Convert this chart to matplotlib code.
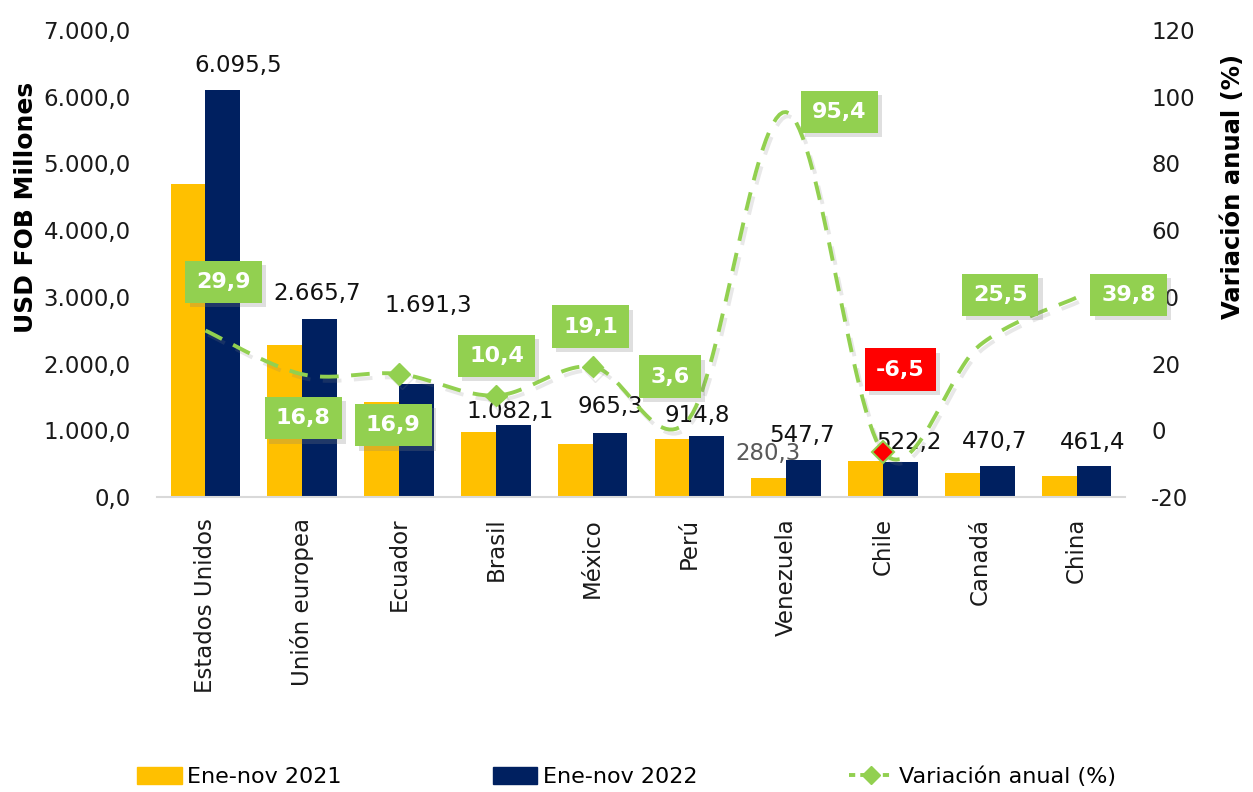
import numpy as np
import matplotlib
matplotlib.use('Agg')
import matplotlib.pyplot as plt
import matplotlib.patheffects as pe
from matplotlib.patches import Patch
from matplotlib.lines import Line2D

plt.rcParams['font.family'] = ['DejaVu Sans']
plt.rcParams['axes.unicode_minus'] = False

COUNTRIES = ['Estados Unidos', 'Unión europea', 'Ecuador', 'Brasil', 'México',
             'Perú', 'Venezuela', 'Chile', 'Canadá', 'China']
VAL_2021 = [4690, 2280, 1425, 975, 800, 870, 280.3, 540, 355, 315]
VAL_2022 = [6095.5, 2665.7, 1691.3, 1082.1, 965.3, 914.8, 547.7, 522.2, 470.7, 461.4]
VARIACION = [29.9, 16.8, 16.9, 10.4, 19.1, 3.6, 95.4, -6.5, 25.5, 39.8]
LEFT_TICKS = [0, 1000, 2000, 3000, 4000, 5000, 6000, 7000]
RIGHT_TICKS = [-20, 0, 20, 40, 60, 80, 100, 120]

YELLOW = '#FFC000'
NAVY = '#002060'
GREEN = '#92D050'
RED = '#FF0000'

# label placement (pixels offset for bar labels, data coords on right axis for boxes)
BAR_LABEL_OFFSET = [(15, 25), (-2, 26), (12, 79), (-3, 13), (0, 26),
                    (-10, 20), (-2, 25), (8, 20), (-3, 24), (-1, 24)]
BOX_POS = [(0.19, 44.4), (1.01, 3.6), (1.94, 1.5), (3.01, 22.3), (3.98, 31.1),
           (4.80, 16.1), (6.55, 95.5), (7.18, 18.2), (8.21, 40.5), (9.54, 40.5)]
MARKER_IDX = [2, 3, 4]
NEG_MARKER_IDX = [7]


def fmt(v):
    s = f"{v:,.1f}"
    return s.replace(',', 'X').replace('.', ',').replace('X', '.')


def smooth(y, n=30):
    """Bezier smoothing through the points, like a spreadsheet 'smoothed line'."""
    y = np.asarray(y, dtype=float)
    x = np.arange(len(y), dtype=float)
    pts = np.column_stack([x, y])
    out = []
    for i in range(len(pts) - 1):
        p0 = pts[i - 1] if i > 0 else pts[i]
        p1, p2 = pts[i], pts[i + 1]
        p3 = pts[i + 2] if i + 2 < len(pts) else pts[i + 1]
        c1 = p1 + (p2 - p0) / 6
        c2 = p2 - (p3 - p1) / 6
        t = np.linspace(0, 1, n)[:, None]
        seg = ((1 - t) ** 3) * p1 + 3 * ((1 - t) ** 2) * t * c1 + 3 * (1 - t) * t ** 2 * c2 + t ** 3 * p2
        out.append(seg if i == 0 else seg[1:])
    seg = np.vstack(out)
    return seg[:, 0], seg[:, 1]


fig = plt.figure(figsize=(12.53, 7.92), dpi=100)
ax = fig.add_axes([0.1253, 0.3725, 0.7725, 0.5896])
ax2 = ax.twinx()

x = np.arange(len(COUNTRIES))
w = 0.36
ax.bar(x - w / 2, VAL_2021, w, color=YELLOW, zorder=2)
ax.bar(x + w / 2, VAL_2022, w, color=NAVY, zorder=2)

ax.set_xlim(-0.5, len(COUNTRIES) - 0.5)
ax.set_ylim(0, 7000)
ax.set_yticks(LEFT_TICKS)
ax.set_yticklabels([fmt(v) for v in LEFT_TICKS])
ax.set_xticks(x)
ax.set_xticklabels(COUNTRIES, rotation=90)
ax.tick_params(axis='y', length=0, pad=19, labelsize=16.5, colors='#1a1a1a')
ax.tick_params(axis='x', length=0, pad=15, labelsize=16.5, colors='#1a1a1a')
for s in ['top', 'left', 'right']:
    ax.spines[s].set_visible(False)
ax.spines['bottom'].set_color('#D9D9D9')
ax.spines['bottom'].set_linewidth(1.5)
ax.set_ylabel('USD FOB Millones', fontsize=18, fontweight='bold')
ax.yaxis.set_label_coords(-0.123, 0.62)

# value labels on 2022 bars
for i, v in enumerate(VAL_2022):
    dx, dy = BAR_LABEL_OFFSET[i]
    ax.annotate(fmt(v), (x[i] + w / 2, v), xytext=(dx, dy), textcoords='offset pixels',
                ha='center', va='center', fontsize=16.5, color='#111111', zorder=5)
# single 2021 label (Venezuela)
ax.annotate(fmt(VAL_2021[6]), (x[6] - w / 2, VAL_2021[6]), xytext=(-1, 25),
            textcoords='offset pixels', ha='center', va='center', fontsize=16.5,
            color='#595959', zorder=5)

# variation line on secondary axis
ax2.set_ylim(-20, 120)
ax2.set_yticks(RIGHT_TICKS)
ax2.tick_params(axis='y', length=0, pad=19, labelsize=16.5, colors='#1a1a1a')
for s in ['top', 'left', 'right', 'bottom']:
    ax2.spines[s].set_visible(False)
ax2.set_ylabel('Variación anual (%)', fontsize=17.5, fontweight='bold', rotation=90)
ax2.yaxis.set_label_coords(1.099, 0.664)

sx, sy = smooth(VARIACION)
shadow = [pe.SimpleLineShadow(offset=(2, -3), shadow_color='#808080', alpha=0.18), pe.Normal()]
ax2.plot(sx, sy, color=GREEN, lw=2.8, linestyle=(0, (4.8, 3.2)), zorder=3,
         path_effects=shadow)
mi = np.array(MARKER_IDX)
ax2.plot(x[mi], np.array(VARIACION)[mi], linestyle='none', marker='D', ms=11,
         color=GREEN, zorder=4, path_effects=shadow)
ni = np.array(NEG_MARKER_IDX)
ax2.plot(x[ni], np.array(VARIACION)[ni], linestyle='none', marker='D', ms=11,
         markerfacecolor=RED, markeredgecolor=GREEN, markeredgewidth=1.5, zorder=4)

for i, v in enumerate(VARIACION):
    bx, by = BOX_POS[i]
    col = RED if v < 0 else GREEN
    t = ax2.text(bx, by, fmt(v), ha='center', va='center', fontsize=16,
                 fontweight='bold', color='white', zorder=6,
                 bbox=dict(boxstyle='square,pad=0.5', fc=col, ec='none'))
    t.get_bbox_patch().set_path_effects(
        [pe.SimplePatchShadow(offset=(3, -3), shadow_rgbFace='#808080', alpha=0.25), pe.Normal()])

# keep right tick labels above the boxes
for lab in ax2.get_yticklabels():
    lab.set_zorder(10)
ax2.set_zorder(ax.get_zorder() + 1)
ax2.patch.set_visible(False)

handles = [Patch(color=YELLOW), Patch(color=NAVY),
           Line2D([], [], color=GREEN, lw=2.8, linestyle=(0, (1.6, 1.3)), marker='D', ms=9)]
fig.legend(handles, ['Ene-nov 2021', 'Ene-nov 2022', 'Variación anual (%)'],
           loc='center', bbox_to_anchor=(0.5, 0.019), ncol=3, frameon=False,
           fontsize=16, handlelength=2.0, handleheight=0.75, handletextpad=0.25,
           columnspacing=6.8)

fig.savefig('out.png', dpi=100)
